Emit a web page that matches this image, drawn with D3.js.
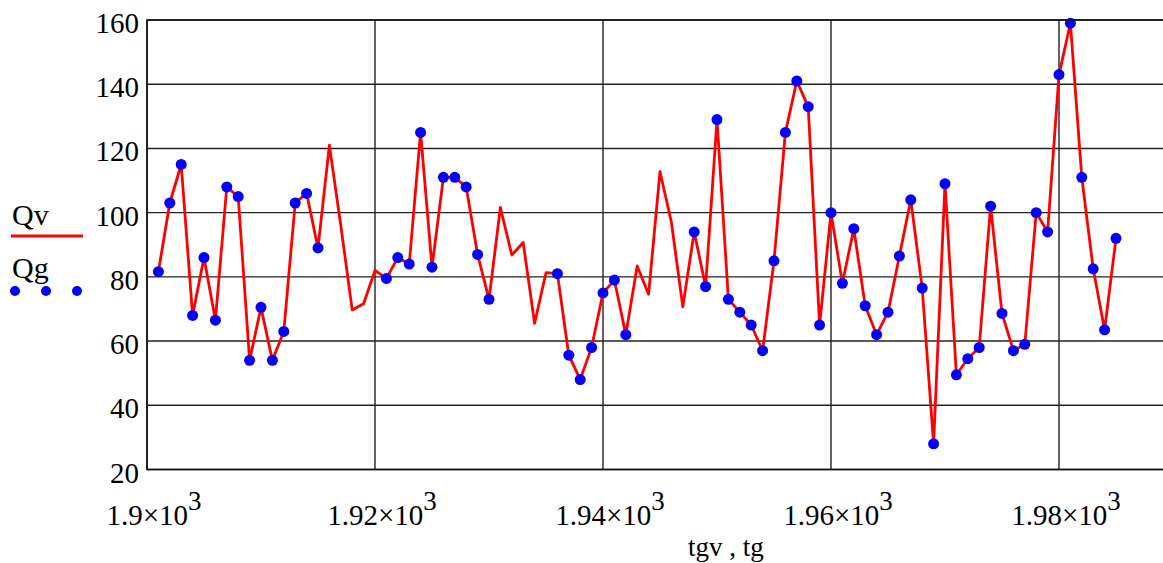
<!DOCTYPE html>
<html>
<head>
<meta charset="utf-8">
<script src="https://cdn.jsdelivr.net/npm/d3@7"></script>
<style>
    body { margin: 0; background: #fff; }
    svg { display: block; }
    text { font-family: 'Liberation Serif', 'Times New Roman', serif; fill: #000; }
</style>
</head>
<body>
<svg class="chart"></svg>
<script>
// Qv: yearly values (red line)
const tgv = [1901, 1902, 1903, 1904, 1905, 1906, 1907, 1908, 1909, 1910,
    1911, 1912, 1913, 1914, 1915, 1916, 1917, 1918, 1919, 1920,
    1921, 1922, 1923, 1924, 1925, 1926, 1927, 1928, 1929, 1930,
    1931, 1932, 1933, 1934, 1935, 1936, 1937, 1938, 1939, 1940,
    1941, 1942, 1943, 1944, 1945, 1946, 1947, 1948, 1949, 1950,
    1951, 1952, 1953, 1954, 1955, 1956, 1957, 1958, 1959, 1960,
    1961, 1962, 1963, 1964, 1965, 1966, 1967, 1968, 1969, 1970,
    1971, 1972, 1973, 1974, 1975, 1976, 1977, 1978, 1979, 1980,
    1981, 1982, 1983, 1984, 1985]
const Qv = [81.6, 103, 115, 68, 86, 66.5, 108, 105, 54, 70.5,
    54, 63, 103, 106, 89, 121, 96, 69.7, 71.6, 82,
    79.5, 86, 84, 125, 83, 111, 111, 108, 87, 73,
    101.6, 86.8, 90.7, 65.5, 81.3, 81, 55.6, 48, 58, 75,
    79, 62, 83.4, 74.6, 112.8, 97, 70.7, 94, 77, 129,
    73, 69, 65, 57, 85, 125, 141, 133, 65, 100,
    78, 95, 71, 62, 69, 86.5, 104, 76.5, 28, 109,
    49.5, 54.5, 58, 102, 68.6, 57, 59, 100, 94, 143,
    159, 111, 82.5, 63.5, 92]

// Qg: measured points (blue dots)
const tg = [1901, 1902, 1903, 1904, 1905, 1906, 1907, 1908, 1909, 1910,
    1911, 1912, 1913, 1914, 1915,
    1921, 1922, 1923, 1924, 1925, 1926, 1927, 1928, 1929, 1930,
    1936, 1937, 1938, 1939, 1940, 1941, 1942,
    1948, 1949, 1950, 1951, 1952, 1953, 1954, 1955, 1956, 1957,
    1958, 1959, 1960, 1961, 1962, 1963, 1964, 1965, 1966, 1967,
    1968, 1969, 1970, 1971, 1972, 1973, 1974, 1975, 1976, 1977,
    1978, 1979, 1980, 1981, 1982, 1983, 1984, 1985]
const Qg = [81.6, 103, 115, 68, 86, 66.5, 108, 105, 54, 70.5,
    54, 63, 103, 106, 89,
    79.5, 86, 84, 125, 83, 111, 111, 108, 87, 73,
    81, 55.6, 48, 58, 75, 79, 62,
    94, 77, 129, 73, 69, 65, 57, 85, 125, 141,
    133, 65, 100, 78, 95, 71, 62, 69, 86.5, 104,
    76.5, 28, 109, 49.5, 54.5, 58, 102, 68.6, 57, 59,
    100, 94, 143, 159, 111, 82.5, 63.5, 92]

const xTicks = [1900, 1920, 1940, 1960, 1980]
const yTicks = [20, 40, 60, 80, 100, 120, 140, 160]

const width = 1163
const height = 563
const plotLeft = 147
const plotTop = 20
const plotBottom = 469.5

const x = d3.scaleLinear().domain([1900, 1990]).range([plotLeft, plotLeft + 90 * 11.4])
const y = d3.scaleLinear().domain([20, 160]).range([plotBottom, plotTop])

const svg = d3.select('.chart')
    .attr('width', width)
    .attr('height', height)

const drawGrid = () => {

    svg.append('g').selectAll('line')
            .data(yTicks)
        .enter().append('line')
        .attr('stroke', '#222')
        .attr('stroke-width', 1.4)
        .attr('x1', plotLeft)
        .attr('x2', x(1990))
        .attr('y1', d => y(d))
        .attr('y2', d => y(d))

    svg.append('g').selectAll('line')
            .data(xTicks)
        .enter().append('line')
        .attr('stroke', '#222')
        .attr('stroke-width', 1.4)
        .attr('x1', d => x(d))
        .attr('x2', d => x(d))
        .attr('y1', plotTop)
        .attr('y2', plotBottom)
}

const drawLabels = () => {

    svg.append('g').selectAll('text')
            .data(yTicks)
        .enter().append('text')
        .text(d => d)
        .attr('font-size', 29)
        .attr('text-anchor', 'end')
        .attr('x', 139)
        .attr('y', d => y(d))
        .attr('dy', 13)

    const label = svg.append('g').selectAll('text')
            .data(xTicks)
        .enter().append('text')
        .attr('font-size', 29)
        .attr('text-anchor', 'middle')
        .attr('x', d => x(d) + 7)
        .attr('y', 525)

    label.append('tspan')
        .text(d => `${d / 1000}×10`)
    label.append('tspan')
        .text('3')
        .attr('font-size', 27)
        .attr('dy', -15)

    svg.append('text')
        .text('tgv , tg')
        .attr('font-size', 27)
        .attr('text-anchor', 'middle')
        .attr('x', 726)
        .attr('y', 556)
}

const drawSeries = () => {

    const line = d3.line()
        .x((d, i) => x(tgv[i]))
        .y(d => y(d))

    svg.append('path')
        .datum(Qv)
        .attr('fill', 'none')
        .attr('stroke', '#ff0000')
        .attr('stroke-width', 2.8)
        .attr('stroke-linejoin', 'round')
        .attr('d', line)

    svg.append('g').selectAll('circle')
            .data(Qg)
        .enter().append('circle')
        .attr('fill', '#0000ff')
        .attr('r', 5.5)
        .attr('cx', (d, i) => x(tg[i]))
        .attr('cy', d => y(d))
}

const drawLegend = () => {

    svg.append('text')
        .text('Qv')
        .attr('font-size', 30)
        .attr('x', 12)
        .attr('y', 225)

    svg.append('line')
        .attr('stroke', '#ff0000')
        .attr('stroke-width', 3)
        .attr('x1', 11).attr('x2', 83)
        .attr('y1', 236).attr('y2', 236)

    svg.append('text')
        .text('Qg')
        .attr('font-size', 30)
        .attr('x', 12)
        .attr('y', 278)

    svg.append('g').selectAll('circle')
            .data([15, 46, 77])
        .enter().append('circle')
        .attr('fill', '#0000ff')
        .attr('r', 5)
        .attr('cx', d => d)
        .attr('cy', 291)
}

drawGrid()
drawSeries()

// frame
svg.append('path')
    .attr('fill', 'none')
    .attr('stroke', '#111')
    .attr('stroke-width', 1.6)
    .attr('d', `M${x(1990)},${plotTop}H${plotLeft}V${plotBottom}H${x(1990)}`)

drawLabels()
drawLegend()
</script>
</body>
</html>
